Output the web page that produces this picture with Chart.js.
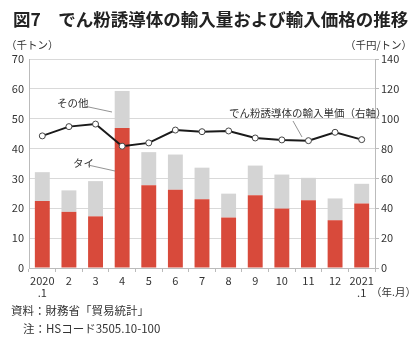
<!DOCTYPE html>
<html><head><meta charset="utf-8">
<script src="https://cdn.jsdelivr.net/npm/chart.js@4.4.1/dist/chart.umd.min.js"></script>
<style>html,body{margin:0;padding:0;background:#fff}#wrap{width:420px;height:348px;position:relative}</style>
</head><body><div id="wrap"><canvas id="c" width="420" height="348"></canvas></div>
<script>
const categories = [["2020",".1"],"2","3","4","5","6","7","8","9","10","11","12",["2021",".1"]];
const thaiVolume = [22.4,18.8,17.3,46.9,27.7,26.2,23.0,16.9,24.4,19.9,22.7,16.0,21.6];
const totalVolume = [32.1,26.0,29.1,59.3,38.8,38.0,33.6,24.9,34.3,31.3,30.2,23.3,28.2];
const otherVolume = totalVolume.map((t,i)=>+(t-thaiVolume[i]).toFixed(1));
const unitPrice = [88.5,94.7,96.4,81.6,83.8,92.4,91.3,91.8,87.1,85.8,85.3,90.9,86.0];
const leftTicks = [0,10,20,30,40,50,60,70];
const rightTicks = [0,20,40,60,80,100,120,140];

const JP = '"Noto Sans CJK JP", "Noto Sans", sans-serif';
const txt = '#333';

const annot = {
  id:'annot',
  afterDraw(chart){
    const ctx = chart.ctx;
    ctx.save();
    ctx.fillStyle = '#222';
    ctx.textBaseline = 'middle';
    ctx.font = 'bold 17.5px ' + JP;
    ctx.textAlign = 'left';
    ctx.fillText('図7　でん粉誘導体の輸入量および輸入価格の推移', 13, 19);
    ctx.font = '10.5px ' + JP;
    ctx.fillStyle = txt;
    ctx.fillText('（千トン）', 6, 45);
    ctx.textAlign = 'right';
    ctx.fillText('（千円/トン）', 412, 45);
    ctx.textAlign = 'left';
    ctx.fillText('（年.月）', 371, 292);
    ctx.font = '11.5px ' + JP;
    ctx.fillText('資料：財務省「貿易統計」', 11, 311);
    ctx.fillText('注：HSコード3505.10-100', 23, 329);
    // callouts
    ctx.font = '10.5px ' + JP;
    ctx.fillText('その他', 57, 103);
    ctx.fillText('タイ', 73, 163);
    ctx.fillText('でん粉誘導体の輸入単価（右軸）', 229, 113);
    ctx.strokeStyle = '#777';
    ctx.lineWidth = 0.8;
    ctx.beginPath();
    ctx.moveTo(84,106); ctx.lineTo(112,112);
    ctx.moveTo(88,165); ctx.lineTo(115,171);
    ctx.moveTo(293,121); ctx.lineTo(302,137);
    ctx.stroke();
    ctx.restore();
  }
};

new Chart(document.getElementById('c'), {
  data: {
    labels: categories,
    datasets: [
      {type:'line', label:'輸入単価', data: unitPrice, yAxisID:'y1', borderColor:'#1a1a1a', borderWidth:2,
       pointRadius:3, pointBackgroundColor:'#fff', pointBorderColor:'#444', pointBorderWidth:1, tension:0, order:0},
      {type:'bar', label:'タイ', data: thaiVolume, yAxisID:'y', backgroundColor:'#d84a3b', stack:'s', order:1,
       barPercentage:0.56, categoryPercentage:1.0},
      {type:'bar', label:'その他', data: otherVolume, yAxisID:'y', backgroundColor:'#d4d4d4', stack:'s', order:1,
       barPercentage:0.56, categoryPercentage:1.0}
    ]
  },
  options: {
    responsive:false, animation:false,
    layout:{padding:{top:59,bottom:0,left:0,right:0}},
    plugins:{legend:{display:false}, tooltip:{enabled:false}},
    scales:{
      x:{stacked:true, offset:true,
        grid:{display:true, drawOnChartArea:false, drawTicks:true, tickLength:4, color:'#bbb', offset:true},
        border:{display:true, color:'#bbb'},
        ticks:{color:txt, font:{family:JP, size:11, lineHeight:1.1}, padding:3, maxRotation:0, autoSkip:false},
        afterFit(s){ s.height = 80; }
      },
      y:{stacked:true, position:'left', min:0, max:70, afterBuildTicks(s){ s.ticks = leftTicks.map(v=>({value:v})); },
        grid:{color:'#d9d9d9', drawTicks:false}, border:{display:true, color:'#bbb'},
        ticks:{color:txt, font:{family:JP, size:11}, padding:5},
        afterFit(s){ s.width = 29; }
      },
      y1:{position:'right', min:0, max:140, afterBuildTicks(s){ s.ticks = rightTicks.map(v=>({value:v})); },
        grid:{drawOnChartArea:false, drawTicks:true, tickLength:4, color:'#bbb'}, border:{display:true, color:'#bbb'},
        ticks:{color:txt, font:{family:JP, size:11}, padding:2},
        afterFit(s){ s.width = 45; }
      }
    }
  },
  plugins:[annot]
});
</script></body></html>
